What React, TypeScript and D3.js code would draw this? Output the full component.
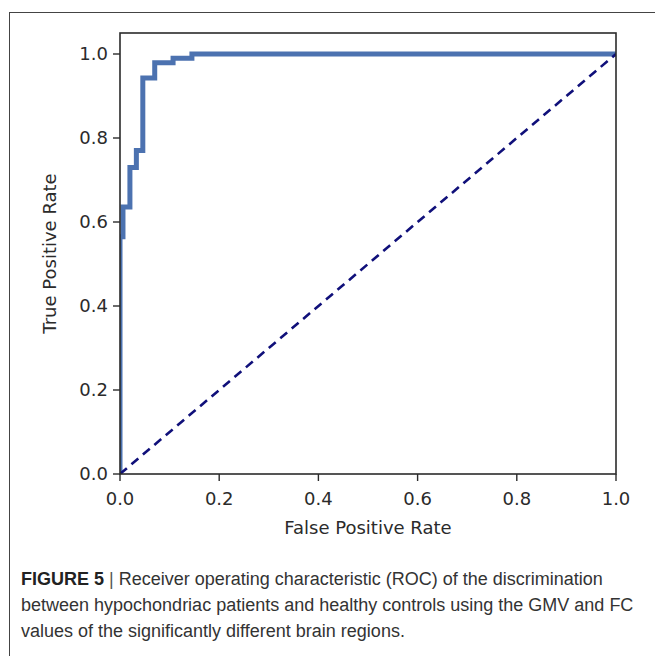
import * as d3 from "d3";

// ROC curve corner points
const fpr = [0, 0, 0.006, 0.006, 0.02, 0.02, 0.033, 0.033, 0.046, 0.046, 0.07, 0.07, 0.107, 0.107, 0.145, 0.145, 1.0];
const tpr = [0, 0.565, 0.565, 0.636, 0.636, 0.73, 0.73, 0.77, 0.77, 0.943, 0.943, 0.979, 0.979, 0.99, 0.99, 1.0, 1.0];
const chance = [0, 1];
const xTicks = [0, 0.2, 0.4, 0.6, 0.8, 1.0];
const yTicks = [0, 0.2, 0.4, 0.6, 0.8, 1.0];

const captionLines = [
  "Receiver operating characteristic (ROC) of the discrimination",
  "between hypochondriac patients and healthy controls using the GMV and FC",
  "values of the significantly different brain regions.",
];

const W = 655;
const H = 656;
const margin = { left: 120, right: 39, top: 33, bottom: 182 };
const innerW = W - margin.left - margin.right;
const innerH = H - margin.top - margin.bottom;

export default function App() {
  const x = d3.scaleLinear().domain([0, 1]).range([0, innerW]);
  const y = d3.scaleLinear().domain([0, 1.05]).range([innerH, 0]);

  const line = d3
    .line<number>()
    .x((d, i) => x(fpr[i]))
    .y((d) => y(d));

  const diag = d3
    .line<number>()
    .x((d) => x(d))
    .y((d) => y(d));

  const tickFont = "DejaVu Sans, sans-serif";
  const ink = "#2b2b2b";

  return (
    <svg
      width={W}
      height={H}
      style={{ position: "absolute", left: 0, top: 0, background: "#fff" }}
    >
      {/* figure frame */}
      <rect x={9.5} y={12.5} width={700} height={700} fill="none" stroke="#444" strokeWidth={1} />

      <defs>
        <clipPath id="plot-clip">
          <rect x={0} y={0} width={innerW} height={innerH} />
        </clipPath>
      </defs>

      <g transform={`translate(${margin.left},${margin.top})`}>
        <g clipPath="url(#plot-clip)">
          <path d={line(tpr) ?? ""} fill="none" stroke="#4c72b0" strokeWidth={5} strokeLinejoin="miter" />
          <path
            d={diag(chance) ?? ""}
            fill="none"
            stroke="#10107a"
            strokeWidth={2.6}
            strokeDasharray="9,6"
          />
        </g>

        <rect x={0} y={0} width={innerW} height={innerH} fill="none" stroke={ink} strokeWidth={1.6} />

        {/* x ticks */}
        {xTicks.map((t) => (
          <g key={"x" + t} transform={`translate(${x(t)},${innerH})`}>
            <line y1={0} y2={7} stroke={ink} strokeWidth={1.4} />
            <text y={31} textAnchor="middle" fontFamily={tickFont} fontSize={18} fill={ink}>
              {t.toFixed(1)}
            </text>
          </g>
        ))}

        {/* y ticks */}
        {yTicks.map((t) => (
          <g key={"y" + t} transform={`translate(0,${y(t)})`}>
            <line x1={0} x2={-7} stroke={ink} strokeWidth={1.4} />
            <text x={-12} dy="0.35em" textAnchor="end" fontFamily={tickFont} fontSize={18} fill={ink}>
              {t.toFixed(1)}
            </text>
          </g>
        ))}

        <text
          x={innerW / 2}
          y={innerH + 60}
          textAnchor="middle"
          fontFamily={tickFont}
          fontSize={18}
          fill={ink}
        >
          False Positive Rate
        </text>
        <text
          transform={`translate(${-64},${innerH / 2}) rotate(-90)`}
          textAnchor="middle"
          fontFamily={tickFont}
          fontSize={18}
          fill={ink}
        >
          True Positive Rate
        </text>
      </g>

      {/* caption */}
      <g fontFamily="Liberation Sans Narrow, Liberation Sans, Arial, sans-serif" fontSize={18} fill="#333">
        <text x={21} y={585}>
          <tspan fontWeight="bold" fill="#222">FIGURE 5</tspan>
          <tspan fill="#555"> | </tspan>
          <tspan>{captionLines[0]}</tspan>
        </text>
        <text x={21} y={611}>{captionLines[1]}</text>
        <text x={21} y={637}>{captionLines[2]}</text>
      </g>
    </svg>
  );
}
